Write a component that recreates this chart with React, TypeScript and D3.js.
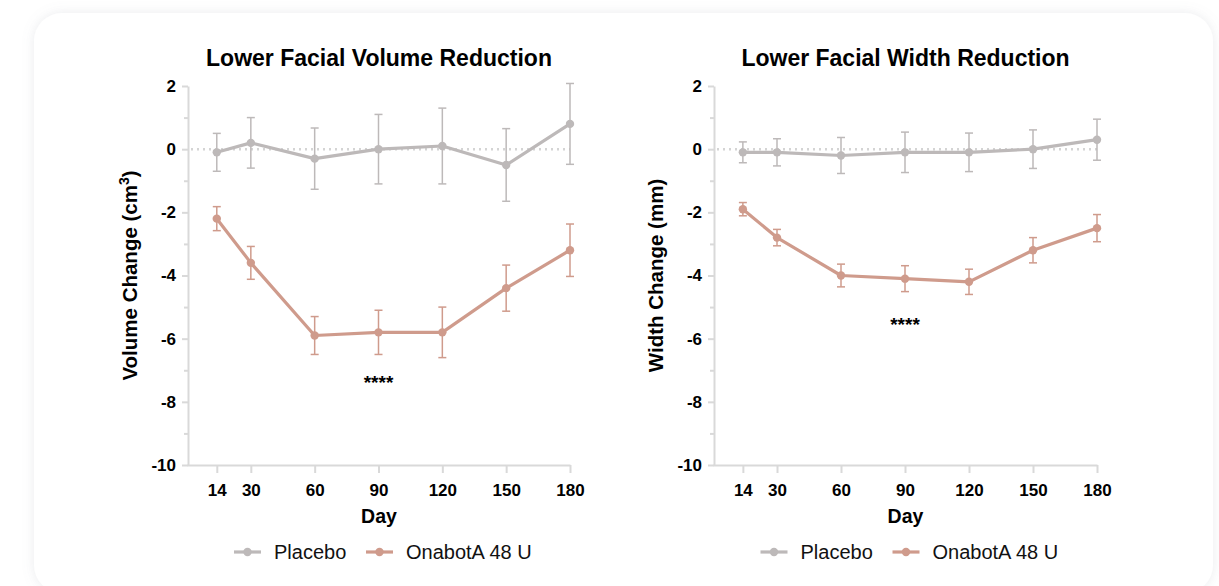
import { useEffect, useRef } from "react";
import * as d3 from "d3";

const days = [14, 30, 60, 90, 120, 150, 180];
const yTicks = [2, 0, -2, -4, -6, -8, -10];
const yMinorTicks = [1, -1, -3, -5, -7, -9];

const volumePlacebo = [-0.1, 0.2, -0.3, 0.0, 0.1, -0.5, 0.8];
const volumePlaceboErr = [0.6, 0.8, 0.97, 1.1, 1.2, 1.15, 1.28];
const volumeOnabot = [-2.2, -3.6, -5.9, -5.8, -5.8, -4.4, -3.2];
const volumeOnabotErr = [0.38, 0.52, 0.6, 0.7, 0.8, 0.73, 0.83];

const widthPlacebo = [-0.1, -0.1, -0.2, -0.1, -0.1, 0.0, 0.3];
const widthPlaceboErr = [0.33, 0.43, 0.57, 0.64, 0.61, 0.61, 0.65];
const widthOnabot = [-1.9, -2.8, -4.0, -4.1, -4.2, -3.2, -2.5];
const widthOnabotErr = [0.21, 0.26, 0.36, 0.41, 0.4, 0.4, 0.43];

const seriesNames = ["Placebo", "OnabotA 48 U"];
const panelTitles = ["Lower Facial Volume Reduction", "Lower Facial Width Reduction"];
const sigText = "****";
const sigDay = 90;
const sigValues = [-7.6, -5.75];

const FONT = "'Liberation Sans', Arial, Helvetica, sans-serif";
const GREY = "#bdb9b9";
const ROSE = "#cf9b8c";
const AXIS = "#d9d9d9";

export default function App() {
  const svgRef = useRef<SVGSVGElement | null>(null);

  useEffect(() => {
    if (!svgRef.current) return;
    const svg = d3.select(svgRef.current);
    svg.selectAll("*").remove();

    // card background with soft shadow
    const defs = svg.append("defs");
    const f = defs.append("filter").attr("id", "cardShadow")
      .attr("x", "-10%").attr("y", "-10%").attr("width", "120%").attr("height", "130%");
    f.append("feDropShadow").attr("dx", 0).attr("dy", 0).attr("stdDeviation", 6)
      .attr("flood-color", "#8a8fa0").attr("flood-opacity", 0.18);

    svg.append("rect")
      .attr("x", 34).attr("y", 13).attr("width", 1179).attr("height", 580)
      .attr("rx", 28).attr("fill", "#fff").attr("filter", "url(#cardShadow)");

    const panels = [
      { x0: 187, x1: 570, placebo: volumePlacebo, placeboErr: volumePlaceboErr, onabot: volumeOnabot, onabotErr: volumeOnabotErr, sup: true },
      { x0: 713, x1: 1097, placebo: widthPlacebo, placeboErr: widthPlaceboErr, onabot: widthOnabot, onabotErr: widthOnabotErr, sup: false },
    ];

    panels.forEach((p, i) => {
      const x = d3.scaleLinear().domain([0, 180]).range([p.x0, p.x1]);
      const y = d3.scaleLinear().domain([-10, 2]).range([465, 86]);
      const g = svg.append("g").attr("font-family", FONT);
      const cx = (p.x0 + 1 + p.x1) / 2;

      // title
      g.append("text")
        .attr("x", cx).attr("y", 66).attr("text-anchor", "middle")
        .attr("font-size", 23).attr("font-weight", "bold").attr("fill", "#000")
        .text(panelTitles[i]);

      // minor y ticks
      g.append("g")
        .attr("transform", `translate(${p.x0 + 1},0)`)
        .call(d3.axisLeft(y).tickValues(yMinorTicks).tickSize(4).tickFormat(() => ""))
        .call(s => s.select(".domain").remove())
        .call(s => s.selectAll(".tick line").attr("stroke", AXIS).attr("stroke-width", 2));

      // y axis
      const ya = g.append("g")
        .attr("transform", `translate(${p.x0 + 1},0)`)
        .call(d3.axisLeft(y).tickValues(yTicks).tickFormat(d => String(d)).tickSize(6).tickSizeOuter(0).tickPadding(6));
      ya.select(".domain").attr("stroke", AXIS).attr("stroke-width", 2);
      ya.selectAll(".tick line").attr("stroke", AXIS).attr("stroke-width", 2);
      ya.selectAll(".tick text").attr("font-size", 17).attr("font-weight", "bold")
        .attr("font-family", FONT).attr("fill", "#000");

      // x axis
      const xa = g.append("g")
        .attr("transform", `translate(0,${y(-10)})`)
        .call(d3.axisBottom(x).tickValues(days).tickFormat(d => String(d)).tickSize(8).tickSizeOuter(0).tickPadding(11));
      xa.select(".domain").attr("stroke", AXIS).attr("stroke-width", 2);
      xa.selectAll(".tick line").attr("stroke", AXIS).attr("stroke-width", 2);
      xa.selectAll(".tick text").attr("font-size", 17).attr("font-weight", "bold")
        .attr("font-family", FONT).attr("fill", "#000");

      // axis titles
      const yl = g.append("text")
        .attr("transform", `translate(${p.x0 - 50},${(y(2) + y(-10)) / 2}) rotate(-90)`)
        .attr("text-anchor", "middle").attr("font-size", 20.5).attr("font-weight", "bold").attr("fill", "#000");
      if (p.sup) {
        yl.append("tspan").text("Volume Change (cm");
        yl.append("tspan").attr("font-size", 14).attr("dy", -8).text("3");
        yl.append("tspan").attr("dy", 8).text(")");
      } else {
        yl.text("Width Change (mm)");
      }

      g.append("text")
        .attr("x", cx).attr("y", 523).attr("text-anchor", "middle")
        .attr("font-size", 19.5).attr("font-weight", "bold").attr("fill", "#000")
        .text("Day");

      // zero reference line
      g.append("line")
        .attr("x1", p.x0 + 4).attr("x2", x(180)).attr("y1", y(0)).attr("y2", y(0))
        .attr("stroke", "#d4d4d4").attr("stroke-width", 2.5)
        .attr("stroke-dasharray", "2,4").attr("stroke-linecap", "butt");

      const series = [
        { vals: p.placebo, errs: p.placeboErr, color: GREY },
        { vals: p.onabot, errs: p.onabotErr, color: ROSE },
      ];

      series.forEach(s => {
        const pts = days.map((d, k) => ({ d, v: s.vals[k], e: s.errs[k] }));
        const eb = g.append("g").attr("stroke", s.color).attr("stroke-width", 1.5).attr("fill", "none");
        pts.forEach(pt => {
          const px = x(pt.d);
          eb.append("line").attr("x1", px).attr("x2", px).attr("y1", y(pt.v + pt.e)).attr("y2", y(pt.v - pt.e));
          eb.append("line").attr("x1", px - 4).attr("x2", px + 4).attr("y1", y(pt.v + pt.e)).attr("y2", y(pt.v + pt.e));
          eb.append("line").attr("x1", px - 4).attr("x2", px + 4).attr("y1", y(pt.v - pt.e)).attr("y2", y(pt.v - pt.e));
        });
        const line = d3.line<{ d: number; v: number }>().x(q => x(q.d)).y(q => y(q.v));
        g.append("path").attr("d", line(pts)).attr("fill", "none")
          .attr("stroke", s.color).attr("stroke-width", 3.2).attr("stroke-linejoin", "round");
        g.append("g").selectAll("circle").data(pts).enter().append("circle")
          .attr("cx", q => x(q.d)).attr("cy", q => y(q.v)).attr("r", 4.2).attr("fill", s.color);
      });

      // significance marker
      g.append("text")
        .attr("x", x(sigDay)).attr("y", y(sigValues[i])).attr("text-anchor", "middle")
        .attr("font-size", 19).attr("font-weight", "bold").attr("fill", "#000")
        .text(sigText);

      // legend
      const lx = cx - 145;
      const lg = g.append("g").attr("transform", `translate(${lx},552)`);
      const offsets = [0, 132];
      seriesNames.forEach((name, k) => {
        const c = k === 0 ? GREY : ROSE;
        const it = lg.append("g").attr("transform", `translate(${offsets[k]},0)`);
        it.append("line").attr("x1", 0).attr("x2", 27).attr("y1", 0).attr("y2", 0)
          .attr("stroke", c).attr("stroke-width", 3.2);
        it.append("circle").attr("cx", 13.5).attr("cy", 0).attr("r", 4.2).attr("fill", c);
        it.append("text").attr("x", 40).attr("y", 6.8).attr("font-size", 20)
          .attr("fill", "#111").text(name);
      });
    });
  }, []);

  return (
    <div style={{ position: "fixed", left: 0, top: 0, width: 1219, height: 586, background: "#fff", overflow: "hidden" }}>
      <svg ref={svgRef} width={1219} height={586} style={{ display: "block" }} />
    </div>
  );
}
